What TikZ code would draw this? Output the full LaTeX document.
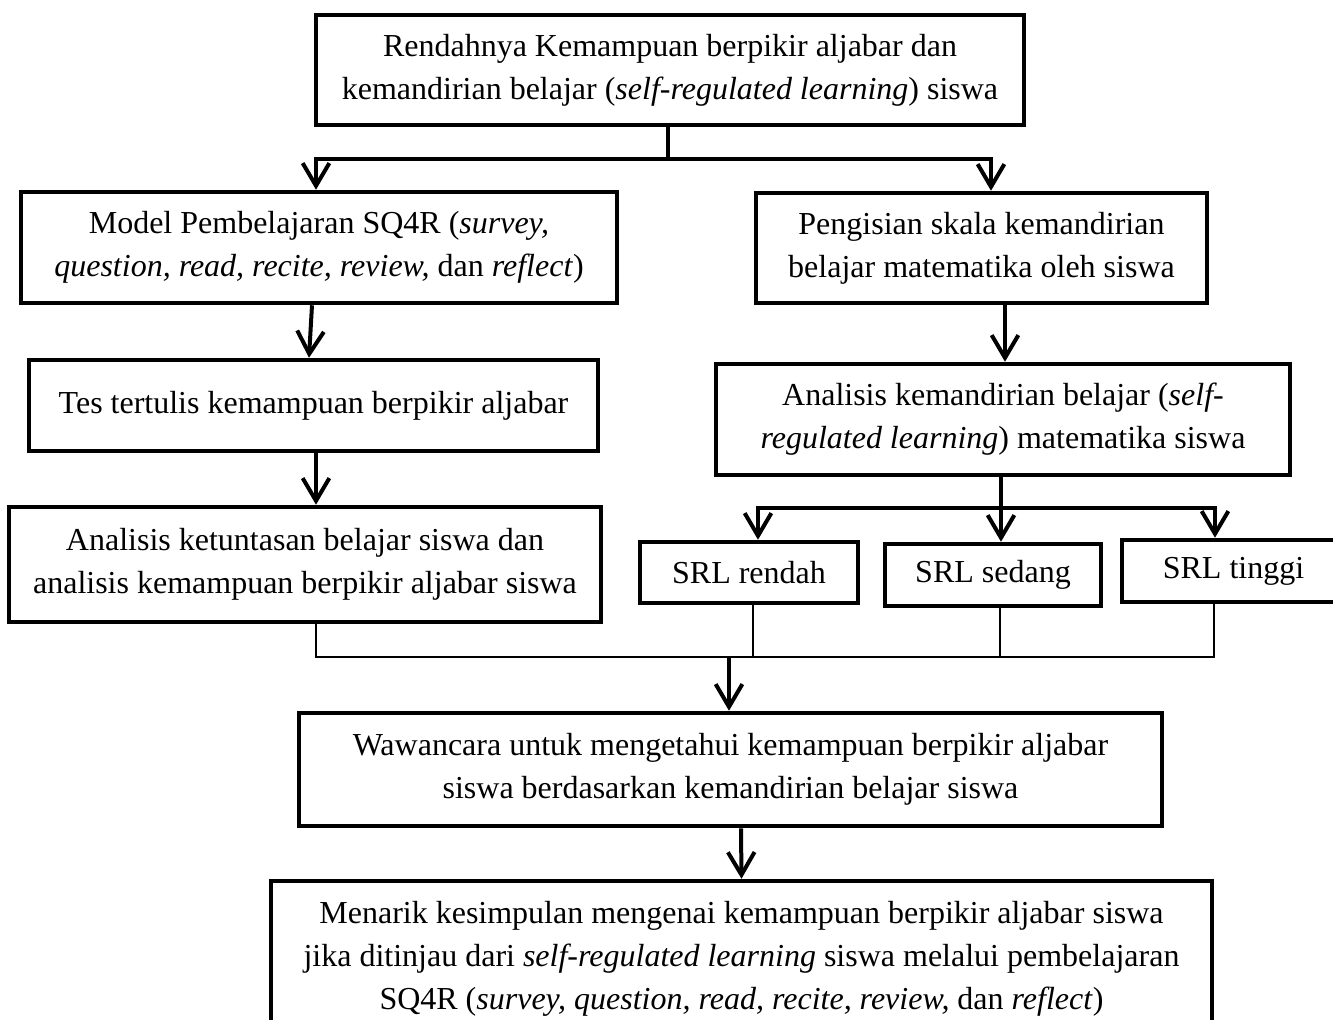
\documentclass[tikz,border=0pt]{standalone}
\usepackage{fontspec}
\setmainfont{Liberation Serif}
\usetikzlibrary{arrows.meta}
\tikzset{
  box/.style={draw=black, line width=1.7pt, align=center, inner sep=0pt,
    font=\fontsize{12}{16.1}\selectfont},
  arr/.style={line width=1.5pt, -{Straight Barb[length=8.5pt,width=10pt]}},
  ln/.style={line width=1.5pt},
  thinln/.style={line width=1.1pt},
}
\begin{document}
\begin{tikzpicture}[x=0.375pt,y=-0.375pt]
\useasboundingbox (0,0) rectangle (1333,1019);
\clip (0,0) rectangle (1333,1019);
\node[box, minimum width=708*0.375pt, minimum height=110*0.375pt] (top) at (670,70)
  {Rendahnya Kemampuan berpikir aljabar dan\\kemandirian belajar (\textit{self-regulated learning}) siswa};
\node[box, minimum width=596*0.375pt, minimum height=111*0.375pt] (m1) at (319,247.5)
  {Model Pembelajaran SQ4R (\textit{survey,}\\\textit{question, read, recite, review,} dan \textit{reflect})};
\node[box, minimum width=451*0.375pt, minimum height=110*0.375pt] (p1) at (981.5,248)
  {Pengisian skala kemandirian\\belajar matematika oleh siswa};
\node[box, minimum width=569*0.375pt, minimum height=91*0.375pt] (t2) at (313.5,405.5)
  {Tes tertulis kemampuan berpikir aljabar};
\node[box, minimum width=592*0.375pt, minimum height=115*0.375pt] (a3) at (305,564.5)
  {Analisis ketuntasan belajar siswa dan\\analisis kemampuan berpikir aljabar siswa};
\node[box, minimum width=574*0.375pt, minimum height=111*0.375pt] (ak) at (1003,419.5)
  {Analisis kemandirian belajar (\textit{self-}\\\textit{regulated learning}) matematika siswa};
\node[box, minimum width=218*0.375pt, minimum height=61*0.375pt] (sr) at (749,572.5) {SRL rendah};
\node[box, minimum width=216*0.375pt, minimum height=62*0.375pt] (ss) at (993,575) {SRL sedang};
\node[box, minimum width=223*0.375pt, minimum height=62*0.375pt] (st) at (1233.5,571) {SRL tinggi};
\node[box, minimum width=863*0.375pt, minimum height=113*0.375pt] (w) at (730.5,769.5)
  {Wawancara untuk mengetahui kemampuan berpikir aljabar\\siswa berdasarkan kemandirian belajar siswa};
\node[box, minimum width=941*0.375pt, minimum height=156*0.375pt] (b) at (741.5,959)
  {Menarik kesimpulan mengenai kemampuan berpikir aljabar siswa\\jika ditinjau dari \textit{self-regulated learning} siswa melalui pembelajaran\\SQ4R (\textit{survey, question, read, recite, review,} dan \textit{reflect})};
% top split
\coordinate (j1) at (668,159);
\draw[ln] ([xshift=-2*0.375pt]top.south) -- (j1);
\draw[arr] (j1) -| ([xshift=-3*0.375pt]m1.north);
\draw[arr] (j1) -| ([xshift=9.5*0.375pt]p1.north);
% left column
\draw[arr] ([xshift=-7*0.375pt]m1.south) -- ([xshift=-4.5*0.375pt]t2.north);
\draw[arr] ([xshift=2.5*0.375pt]t2.south) -- ([xshift=11*0.375pt]a3.north);
% right column
\draw[arr] ([xshift=23.5*0.375pt]p1.south) -- ([xshift=2*0.375pt]ak.north);
\coordinate (j2) at (1001,508);
\draw[ln] ([xshift=-2*0.375pt]ak.south) -- (j2);
\draw[arr] (j2) -| ([xshift=9*0.375pt]sr.north);
\draw[arr] (j2) -- ([xshift=8*0.375pt]ss.north);
\draw[arr] (j2) -| ([xshift=-18.5*0.375pt]st.north);
% merge
\coordinate (j3) at (729,657);
\draw[thinln] ([xshift=11*0.375pt]a3.south) |- ([xshift=-19.5*0.375pt]st.south |- j3) -- ([xshift=-19.5*0.375pt]st.south);
\draw[thinln] ([xshift=4*0.375pt]sr.south) -- ([xshift=4*0.375pt]sr.south |- j3);
\draw[thinln] ([xshift=7*0.375pt]ss.south) -- ([xshift=7*0.375pt]ss.south |- j3);
\draw[arr] (j3) -- ([xshift=-1.5*0.375pt]w.north);
\draw[arr] ([xshift=10.5*0.375pt]w.south) -- (b.north);
\end{tikzpicture}
\end{document}
